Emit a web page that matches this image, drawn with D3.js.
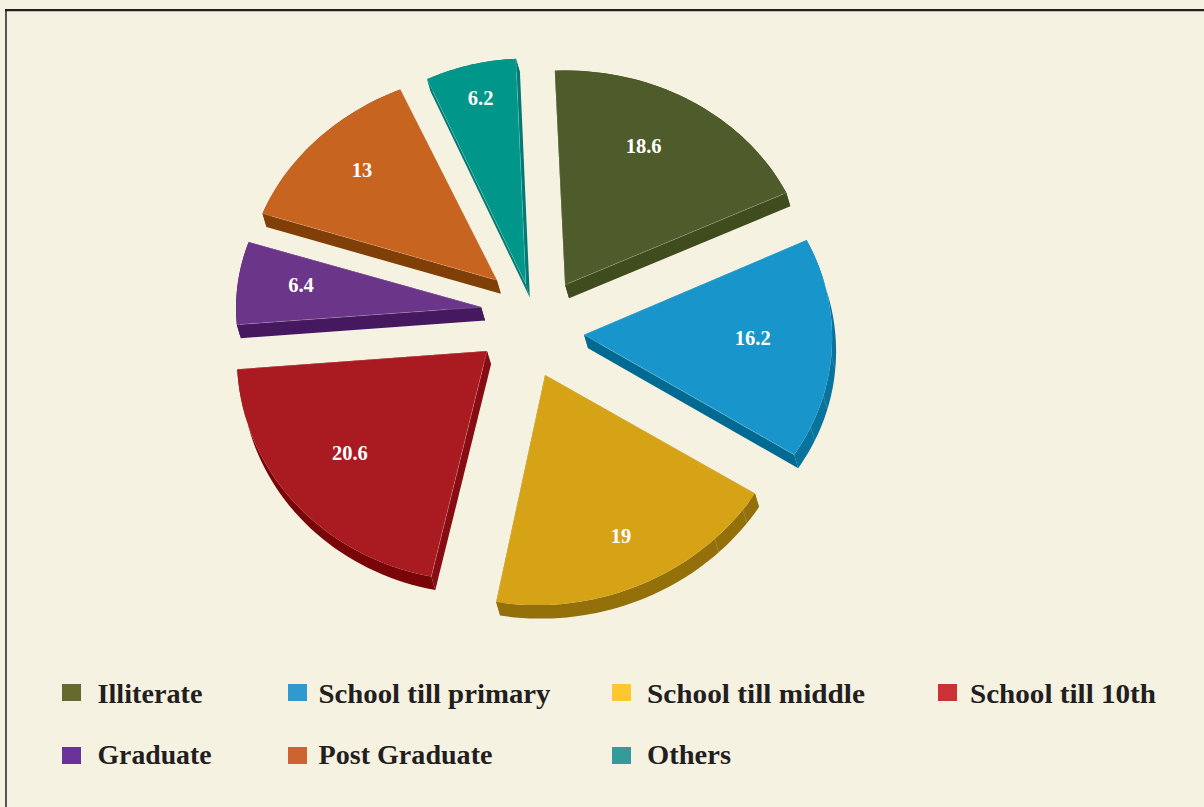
<!DOCTYPE html>
<html>
<head>
<meta charset="utf-8">
<script src="https://cdn.jsdelivr.net/npm/d3@7"></script>
<style>
  html, body { margin: 0; padding: 0; background: #f6f2e2; }
  svg { display: block; }
  text { font-family: "Liberation Serif", serif; font-weight: 700; }
</style>
</head>
<body>
<svg id="chart" width="1204" height="807"></svg>
<script>
// Education levels and their percentage shares
const categories = ["Illiterate", "School till primary", "School till middle", "School till 10th", "Graduate", "Post Graduate", "Others"];
const shares = [18.6, 16.2, 19, 20.6, 6.4, 13, 6.2];
const topColors = ["#4e5b2a", "#1896cb", "#d6a316", "#a91b20", "#6b358a", "#c7641f", "#009689"];
const sideColors = ["#3f4c1e", "#006a92", "#94700a", "#880d12", "#45185f", "#7f3f06", "#007a72"];
const rimColors = ["#3f4c1e", "#08739d", "#94700a", "#790508", "#45185f", "#7f3f06", "#007a72"];
const legendColors = ["#676a2f", "#3099d0", "#fdc82f", "#cc3235", "#69329a", "#cb6431", "#339c9a"];
const legendWidths = [105, 232, 218, 186, 114, 174, 84];

// Per-slice drawing options: wedge pull-out distance and direction, foreshortening, shear and radius
const explodeBy = [52, 53, 51.7, 52, 54, 57, 41.5];
const explodeTurn = [8.4, 7, 8.3, 11.6, 12.4, 10, 5];
const tiltBy = [0.875, 0.89, 0.92, 0.92, 0.85, 0.84, 0.955];
const shearXBy = [0, 0.015, 0, -0.03, 0, -0.042, 0];
const shearYBy = [0, 0, -0.03, 0, -0.004, 0, 0];
const radiusBy = [245, 248, 250, 250, 245, 250, 236];
// Value label placement along the radius and relative to the wedge's middle
const labelAt = [0.722, 0.68, 0.77, 0.696, 0.743, 0.765, 0.848];
const labelTurn = [-4.7, -2.6, -0.3, 2, 1.5, 1.3, 0.5];
// Faint facet seams on the outer wall, as fractions of the wedge's arc
const rimSeams = [[], [0.53, 0.71, 0.86], [0.07, 0.21], [], [], [], []];

const width = 1204, height = 807;
const svg = d3.select("#chart");
const rad = deg => deg * Math.PI / 180;

// Page panel with its dark frame along the top and left
svg.append("rect").attr("width", width).attr("height", height).attr("fill", "#f6f2e2");
svg.append("path")
  .attr("d", d3.line()([[6, height], [6, 10]]))
  .attr("fill", "none").attr("stroke", "#555555").attr("stroke-width", 2);
svg.append("path")
  .attr("d", d3.line()([[5, 10.2], [width, 10.2]]))
  .attr("fill", "none").attr("stroke", "#231f20").attr("stroke-width", 2.3);

// Pie layout: clockwise from just left of twelve o'clock, in data order
const startAngle = rad(-2.4);
const slices = d3.pie().value(d => d).sort(null)
  .startAngle(startAngle).endAngle(startAngle + 2 * Math.PI)(shares);

const center = [532, 325];
const depth = [4, 13.5];
const polar = (a, r) => [Math.sin(a) * r, -Math.cos(a) * r];

function sliceGeometry(d, i) {
  const mid = (d.startAngle + d.endAngle) / 2;
  const off = polar(mid + rad(explodeTurn[i]), explodeBy[i]);
  const apex = [center[0] + off[0], center[1] + off[1]];
  const place = (a, r) => {
    const p = polar(a, r);
    const y = p[1] * tiltBy[i];
    return [apex[0] + p[0] + shearXBy[i] * y, apex[1] + y + shearYBy[i] * p[0]];
  };
  const along = t => place(d.startAngle + (d.endAngle - d.startAngle) * t, radiusBy[i]);
  const rim = d3.range(0, 41).map(s => along(s / 40));
  return { apex, rim, mid, place, along };
}
const shift = p => [p[0] + depth[0], p[1] + depth[1]];
const closed = d3.line().curve(d3.curveLinearClosed);
const open = d3.line();

const pieGroup = svg.append("g");
slices.forEach((d, i) => {
  const g = sliceGeometry(d, i);
  const first = g.rim[0], last = g.rim[g.rim.length - 1];
  const group = pieGroup.append("g");
  // Extruded walls: outer rim first, radial faces after, top face last
  group.append("path").attr("fill", rimColors[i])
    .attr("d", closed(g.rim.concat(g.rim.slice().reverse().map(shift))));
  rimSeams[i].forEach(t => {
    const p = g.along(t);
    group.append("path").attr("fill", "none")
      .attr("stroke", "#ffffff").attr("stroke-opacity", 0.22).attr("stroke-width", 0.7)
      .attr("d", open([p, shift(p)]));
  });
  [first, last].forEach(p => {
    group.append("path").attr("fill", sideColors[i])
      .attr("d", closed([g.apex, p, shift(p), shift(g.apex)]));
  });
  group.append("path").attr("fill", topColors[i])
    .attr("d", closed([g.apex, ...g.rim]));
  // Fine highlight along the top edge of the walls
  group.append("path").attr("fill", "none")
    .attr("stroke", "#ffffff").attr("stroke-opacity", 0.28).attr("stroke-width", 0.7)
    .attr("d", open([last, g.apex, first]));
});

// Value labels on the top faces
slices.forEach((d, i) => {
  const g = sliceGeometry(d, i);
  const q = g.place(g.mid + rad(labelTurn[i]), radiusBy[i] * labelAt[i]);
  svg.append("text")
    .attr("x", q[0]).attr("y", q[1])
    .attr("dy", "0.35em").attr("text-anchor", "middle")
    .attr("fill", "#ffffff").attr("font-size", 20.5)
    .text(d.data);
});

// Legend: two rows on four columns
const columnX = d3.scaleOrdinal().domain([0, 1, 2, 3]).range([62, 288, 612, 938]);
const textX = d3.scaleOrdinal().domain([0, 1, 2, 3]).range([97.5, 318.5, 647, 970]);
const rowY = d3.scalePoint().domain([0, 1]).range([702.5, 764]);
const swatchY = d3.scalePoint().domain([0, 1]).range([684, 747]);
const legend = svg.append("g");
categories.forEach((name, i) => {
  const col = i < 4 ? i : i - 4, row = i < 4 ? 0 : 1;
  legend.append("rect")
    .attr("x", columnX(col)).attr("y", swatchY(row))
    .attr("width", 19).attr("height", 17).attr("fill", legendColors[i]);
  legend.append("text")
    .attr("x", textX(col)).attr("y", rowY(row))
    .attr("fill", "#231f20").attr("font-size", 28)
    .attr("textLength", legendWidths[i]).attr("lengthAdjust", "spacingAndGlyphs")
    .text(name);
});
</script>
</body>
</html>
